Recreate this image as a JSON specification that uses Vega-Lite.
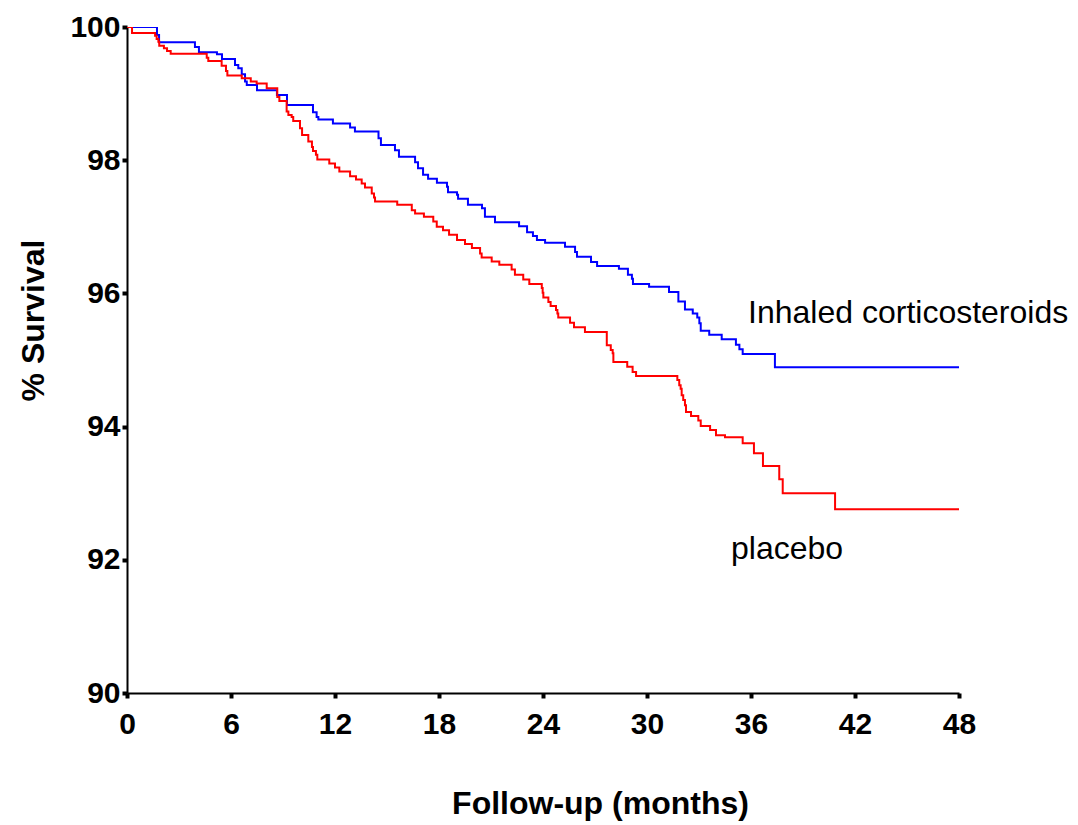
{
  "$schema": "https://vega.github.io/schema/vega-lite/v6.json",
  "autosize": "none",
  "width": 832,
  "height": 666,
  "padding": {"left": 127, "top": 27, "right": 119, "bottom": 132},
  "background": "white",
  "config": {
    "view": {"stroke": null},
    "font": "Liberation Sans",
    "axis": {
      "grid": false,
      "domainColor": "black",
      "domainWidth": 2,
      "tickColor": "black",
      "tickWidth": 4,
      "tickSize": 5,
      "labelFont": "Liberation Sans",
      "labelFontWeight": "bold",
      "labelFontSize": 30,
      "labelColor": "black",
      "titleFont": "Liberation Sans",
      "titleFontWeight": "bold",
      "titleFontSize": 32,
      "titleColor": "black"
    }
  },
  "datasets": {
    "curves": [
      {"group": "ics", "month": 0, "survival": 100},
      {"group": "ics", "month": 1.73, "survival": 99.88},
      {"group": "ics", "month": 1.85, "survival": 99.77},
      {"group": "ics", "month": 3.92, "survival": 99.70},
      {"group": "ics", "month": 4.15, "survival": 99.62},
      {"group": "ics", "month": 5.19, "survival": 99.59},
      {"group": "ics", "month": 5.48, "survival": 99.52},
      {"group": "ics", "month": 6.23, "survival": 99.43},
      {"group": "ics", "month": 6.42, "survival": 99.38},
      {"group": "ics", "month": 6.62, "survival": 99.29},
      {"group": "ics", "month": 6.81, "survival": 99.18},
      {"group": "ics", "month": 6.91, "survival": 99.13},
      {"group": "ics", "month": 7.50, "survival": 99.05},
      {"group": "ics", "month": 8.65, "survival": 98.98},
      {"group": "ics", "month": 9.23, "survival": 98.83},
      {"group": "ics", "month": 10.73, "survival": 98.72},
      {"group": "ics", "month": 10.94, "survival": 98.65},
      {"group": "ics", "month": 11.04, "survival": 98.61},
      {"group": "ics", "month": 11.88, "survival": 98.55},
      {"group": "ics", "month": 12.87, "survival": 98.49},
      {"group": "ics", "month": 13.15, "survival": 98.43},
      {"group": "ics", "month": 14.51, "survival": 98.33},
      {"group": "ics", "month": 14.65, "survival": 98.23},
      {"group": "ics", "month": 15.46, "survival": 98.15},
      {"group": "ics", "month": 15.69, "survival": 98.05},
      {"group": "ics", "month": 16.62, "survival": 97.97},
      {"group": "ics", "month": 16.79, "survival": 97.88},
      {"group": "ics", "month": 17.08, "survival": 97.78},
      {"group": "ics", "month": 17.37, "survival": 97.72},
      {"group": "ics", "month": 17.88, "survival": 97.66},
      {"group": "ics", "month": 18.46, "survival": 97.60},
      {"group": "ics", "month": 18.52, "survival": 97.52},
      {"group": "ics", "month": 19.04, "survival": 97.48},
      {"group": "ics", "month": 19.10, "survival": 97.42},
      {"group": "ics", "month": 19.67, "survival": 97.33},
      {"group": "ics", "month": 20.48, "survival": 97.28},
      {"group": "ics", "month": 20.65, "survival": 97.15},
      {"group": "ics", "month": 21.23, "survival": 97.07},
      {"group": "ics", "month": 22.62, "survival": 97.01},
      {"group": "ics", "month": 23.08, "survival": 96.92},
      {"group": "ics", "month": 23.42, "survival": 96.86},
      {"group": "ics", "month": 23.65, "survival": 96.80},
      {"group": "ics", "month": 24.12, "survival": 96.76},
      {"group": "ics", "month": 25.27, "survival": 96.70},
      {"group": "ics", "month": 25.85, "survival": 96.62},
      {"group": "ics", "month": 25.96, "survival": 96.55},
      {"group": "ics", "month": 26.77, "survival": 96.47},
      {"group": "ics", "month": 27.12, "survival": 96.41},
      {"group": "ics", "month": 28.38, "survival": 96.37},
      {"group": "ics", "month": 28.90, "survival": 96.28},
      {"group": "ics", "month": 29.13, "survival": 96.22},
      {"group": "ics", "month": 29.19, "survival": 96.14},
      {"group": "ics", "month": 30.12, "survival": 96.10},
      {"group": "ics", "month": 31.27, "survival": 96.02},
      {"group": "ics", "month": 31.81, "survival": 95.88},
      {"group": "ics", "month": 32.19, "survival": 95.76},
      {"group": "ics", "month": 32.64, "survival": 95.70},
      {"group": "ics", "month": 32.90, "survival": 95.64},
      {"group": "ics", "month": 33.02, "survival": 95.55},
      {"group": "ics", "month": 33.10, "survival": 95.44},
      {"group": "ics", "month": 33.59, "survival": 95.38},
      {"group": "ics", "month": 34.31, "survival": 95.31},
      {"group": "ics", "month": 35.13, "survival": 95.23},
      {"group": "ics", "month": 35.33, "survival": 95.16},
      {"group": "ics", "month": 35.52, "survival": 95.09},
      {"group": "ics", "month": 37.38, "survival": 94.89},
      {"group": "ics", "month": 48, "survival": 94.89},
      {"group": "placebo", "month": 0, "survival": 100},
      {"group": "placebo", "month": 0.29, "survival": 99.91},
      {"group": "placebo", "month": 1.62, "survival": 99.87},
      {"group": "placebo", "month": 1.71, "survival": 99.82},
      {"group": "placebo", "month": 1.81, "survival": 99.78},
      {"group": "placebo", "month": 1.86, "survival": 99.72},
      {"group": "placebo", "month": 2.13, "survival": 99.68},
      {"group": "placebo", "month": 2.31, "survival": 99.64},
      {"group": "placebo", "month": 2.52, "survival": 99.60},
      {"group": "placebo", "month": 4.60, "survival": 99.54},
      {"group": "placebo", "month": 4.69, "survival": 99.49},
      {"group": "placebo", "month": 5.46, "survival": 99.42},
      {"group": "placebo", "month": 5.71, "survival": 99.34},
      {"group": "placebo", "month": 5.79, "survival": 99.27},
      {"group": "placebo", "month": 6.62, "survival": 99.23},
      {"group": "placebo", "month": 7.14, "survival": 99.18},
      {"group": "placebo", "month": 7.48, "survival": 99.15},
      {"group": "placebo", "month": 8.06, "survival": 99.08},
      {"group": "placebo", "month": 8.67, "survival": 98.95},
      {"group": "placebo", "month": 8.79, "survival": 98.89},
      {"group": "placebo", "month": 9.21, "survival": 98.73},
      {"group": "placebo", "month": 9.31, "survival": 98.68},
      {"group": "placebo", "month": 9.50, "survival": 98.65},
      {"group": "placebo", "month": 9.59, "survival": 98.59},
      {"group": "placebo", "month": 9.98, "survival": 98.48},
      {"group": "placebo", "month": 10.10, "survival": 98.38},
      {"group": "placebo", "month": 10.46, "survival": 98.28},
      {"group": "placebo", "month": 10.67, "survival": 98.20},
      {"group": "placebo", "month": 10.73, "survival": 98.14},
      {"group": "placebo", "month": 10.90, "survival": 98.08},
      {"group": "placebo", "month": 10.98, "survival": 98.01},
      {"group": "placebo", "month": 11.67, "survival": 97.95},
      {"group": "placebo", "month": 12.00, "survival": 97.89},
      {"group": "placebo", "month": 12.25, "survival": 97.83},
      {"group": "placebo", "month": 12.87, "survival": 97.76},
      {"group": "placebo", "month": 13.21, "survival": 97.71},
      {"group": "placebo", "month": 13.54, "survival": 97.65},
      {"group": "placebo", "month": 13.73, "survival": 97.59},
      {"group": "placebo", "month": 14.12, "survival": 97.50},
      {"group": "placebo", "month": 14.25, "survival": 97.44},
      {"group": "placebo", "month": 14.31, "survival": 97.38},
      {"group": "placebo", "month": 15.59, "survival": 97.33},
      {"group": "placebo", "month": 16.43, "survival": 97.25},
      {"group": "placebo", "month": 16.62, "survival": 97.20},
      {"group": "placebo", "month": 17.13, "survival": 97.15},
      {"group": "placebo", "month": 17.67, "survival": 97.08},
      {"group": "placebo", "month": 17.87, "survival": 97.00},
      {"group": "placebo", "month": 18.23, "survival": 96.95},
      {"group": "placebo", "month": 18.58, "survival": 96.88},
      {"group": "placebo", "month": 19.04, "survival": 96.80},
      {"group": "placebo", "month": 19.50, "survival": 96.74},
      {"group": "placebo", "month": 19.90, "survival": 96.68},
      {"group": "placebo", "month": 20.37, "survival": 96.60},
      {"group": "placebo", "month": 20.46, "survival": 96.54},
      {"group": "placebo", "month": 21.04, "survival": 96.48},
      {"group": "placebo", "month": 21.48, "survival": 96.43},
      {"group": "placebo", "month": 22.19, "survival": 96.36},
      {"group": "placebo", "month": 22.38, "survival": 96.28},
      {"group": "placebo", "month": 22.86, "survival": 96.21},
      {"group": "placebo", "month": 23.21, "survival": 96.14},
      {"group": "placebo", "month": 23.93, "survival": 96.08},
      {"group": "placebo", "month": 23.98, "survival": 96.01},
      {"group": "placebo", "month": 24.02, "survival": 95.94},
      {"group": "placebo", "month": 24.31, "survival": 95.87},
      {"group": "placebo", "month": 24.44, "survival": 95.81},
      {"group": "placebo", "month": 24.75, "survival": 95.75},
      {"group": "placebo", "month": 24.83, "survival": 95.70},
      {"group": "placebo", "month": 24.88, "survival": 95.64},
      {"group": "placebo", "month": 25.56, "survival": 95.56},
      {"group": "placebo", "month": 25.79, "survival": 95.49},
      {"group": "placebo", "month": 26.42, "survival": 95.42},
      {"group": "placebo", "month": 27.68, "survival": 95.22},
      {"group": "placebo", "month": 27.91, "survival": 95.15},
      {"group": "placebo", "month": 28.02, "survival": 95.10},
      {"group": "placebo", "month": 28.06, "survival": 94.97},
      {"group": "placebo", "month": 28.86, "survival": 94.90},
      {"group": "placebo", "month": 29.17, "survival": 94.82},
      {"group": "placebo", "month": 29.37, "survival": 94.76},
      {"group": "placebo", "month": 31.75, "survival": 94.70},
      {"group": "placebo", "month": 31.86, "survival": 94.62},
      {"group": "placebo", "month": 31.94, "survival": 94.57},
      {"group": "placebo", "month": 32.00, "survival": 94.47},
      {"group": "placebo", "month": 32.09, "survival": 94.40},
      {"group": "placebo", "month": 32.19, "survival": 94.32},
      {"group": "placebo", "month": 32.25, "survival": 94.22},
      {"group": "placebo", "month": 32.54, "survival": 94.16},
      {"group": "placebo", "month": 32.96, "survival": 94.09},
      {"group": "placebo", "month": 33.10, "survival": 94.01},
      {"group": "placebo", "month": 33.64, "survival": 93.95},
      {"group": "placebo", "month": 33.98, "survival": 93.87},
      {"group": "placebo", "month": 34.50, "survival": 93.84},
      {"group": "placebo", "month": 35.52, "survival": 93.75},
      {"group": "placebo", "month": 36.17, "survival": 93.60},
      {"group": "placebo", "month": 36.69, "survival": 93.41},
      {"group": "placebo", "month": 37.63, "survival": 93.21},
      {"group": "placebo", "month": 37.83, "survival": 93.00},
      {"group": "placebo", "month": 40.85, "survival": 92.76},
      {"group": "placebo", "month": 48, "survival": 92.76}
    ],
    "labels": [
      {"label": "Inhaled corticosteroids", "month": 35.83, "survival": 95.55},
      {"label": "placebo", "month": 34.85, "survival": 92.01}
    ]
  },
  "layer": [
    {
      "data": {"name": "curves"},
      "mark": {"type": "line", "interpolate": "step-after", "strokeWidth": 2, "clip": true},
      "encoding": {
        "x": {
          "field": "month", "type": "quantitative",
          "scale": {"domain": [0, 48], "nice": false, "zero": false},
          "axis": {
            "values": [0, 6, 12, 18, 24, 30, 36, 42, 48],
            "format": "d",
            "title": "Follow-up (months)",
            "labelBaseline": "alphabetic",
            "labelPadding": 35,
            "labelFlush": false,
            "titleX": 473,
            "titleY": 120,
            "titleBaseline": "alphabetic",
            "titleAnchor": "middle",
            "titleAlign": "center"
          }
        },
        "y": {
          "field": "survival", "type": "quantitative",
          "scale": {"domain": [90, 100], "nice": false, "zero": false},
          "axis": {
            "values": [90, 92, 94, 96, 98, 100],
            "format": "d",
            "title": "% Survival",
            "labelPadding": 2,
            "labelFlush": false,
            "titleX": -84,
            "titleY": 293,
            "titleBaseline": "alphabetic",
            "titleAngle": -90,
            "titleAlign": "center"
          }
        },
        "color": {
          "field": "group", "type": "nominal",
          "scale": {"domain": ["ics", "placebo"], "range": ["#0000FF", "#FF0000"]},
          "legend": null
        }
      }
    },
    {
      "data": {"name": "labels"},
      "mark": {"type": "text", "align": "left", "baseline": "alphabetic", "font": "Liberation Sans", "fontSize": 32, "color": "black"},
      "encoding": {
        "x": {"field": "month", "type": "quantitative"},
        "y": {"field": "survival", "type": "quantitative"},
        "text": {"field": "label"}
      }
    }
  ]
}
